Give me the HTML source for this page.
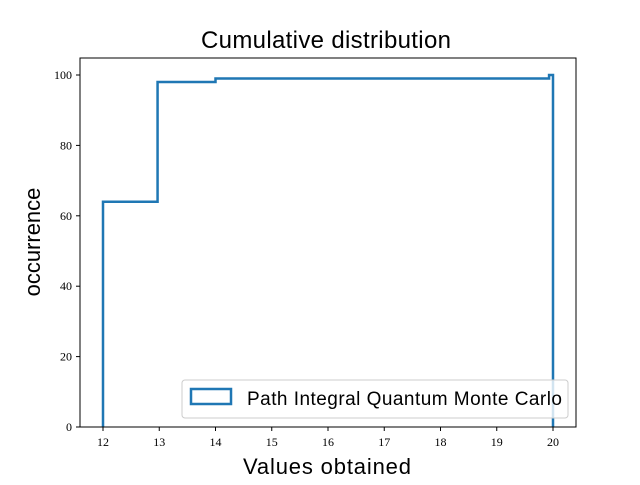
<!DOCTYPE html>
<html><head><meta charset="utf-8"><style>
html,body{margin:0;padding:0;background:#fff;}
svg text{font-family:"Liberation Sans",sans-serif;}
.tick{font-family:"Liberation Serif",serif;font-size:12px;}
</style></head><body>
<svg id="chart" width="640" height="480" xmlns="http://www.w3.org/2000/svg">
<rect x="0" y="0" width="640" height="480" fill="#fff"/>
<text x="326" y="48" text-anchor="middle" font-size="24" textLength="250">Cumulative distribution</text>
<text x="327" y="474" text-anchor="middle" font-size="22" textLength="168">Values obtained</text>
<text transform="translate(40,242) rotate(-90)" text-anchor="middle" font-size="22">occurrence</text>
<g id="ticks"></g>
<path id="series" fill="none" stroke="#1f77b4" stroke-width="2.5"/>
<rect x="80" y="58" width="496" height="369" fill="none" stroke="#000" stroke-width="1"/>
<g>
<rect x="182" y="380" width="386" height="38" rx="3" fill="#fff" fill-opacity="0.8" stroke="#ccc"/>
<rect x="191" y="389" width="40" height="15" fill="none" stroke="#1f77b4" stroke-width="2.5"/>
<text x="247" y="405" font-size="19" textLength="315">Path Integral Quantum Monte Carlo</text>
</g>
</svg>
<script>
const binEdges = [12, 12.97, 14, 19.93, 20];
const cumCounts = [64, 98, 99, 100];
const xTicks = [12, 13, 14, 15, 16, 17, 18, 19, 20];
const yTicks = [0, 20, 40, 60, 80, 100];
const X = v => 103 + (v - 12) * 56.25;
const Y = v => 427 - v * 3.52;
const ns = "http://www.w3.org/2000/svg";
let d = `M${X(binEdges[0])},${Y(0)}`;
for (let i = 0; i < cumCounts.length; i++) {
  d += ` L${X(binEdges[i])},${Y(cumCounts[i])} L${X(binEdges[i+1])},${Y(cumCounts[i])}`;
}
d += ` L${X(binEdges[binEdges.length-1])},${Y(0)}`;
document.getElementById('series').setAttribute('d', d);
const g = document.getElementById('ticks');
xTicks.forEach(t => {
  const l = document.createElementNS(ns, 'line');
  l.setAttribute('x1', X(t)); l.setAttribute('x2', X(t));
  l.setAttribute('y1', 427); l.setAttribute('y2', 431);
  l.setAttribute('stroke', '#000');
  
  
  g.appendChild(l);
  const tx = document.createElementNS(ns, 'text');
  tx.setAttribute('x', X(t)); tx.setAttribute('y', 446);
  tx.setAttribute('text-anchor', 'middle'); tx.setAttribute('class', 'tick');
  tx.textContent = t;
  
  
  g.appendChild(tx);
});
yTicks.forEach(t => {
  const l = document.createElementNS(ns, 'line');
  l.setAttribute('x1', 76); l.setAttribute('x2', 80);
  l.setAttribute('y1', Y(t)); l.setAttribute('y2', Y(t));
  l.setAttribute('stroke', '#000');
  
  
  g.appendChild(l);
  const tx = document.createElementNS(ns, 'text');
  tx.setAttribute('x', 72); tx.setAttribute('y', Y(t) + 4);
  tx.setAttribute('text-anchor', 'end'); tx.setAttribute('class', 'tick');
  tx.textContent = t;
  
  
  g.appendChild(tx);
});
</script>
</body></html>
